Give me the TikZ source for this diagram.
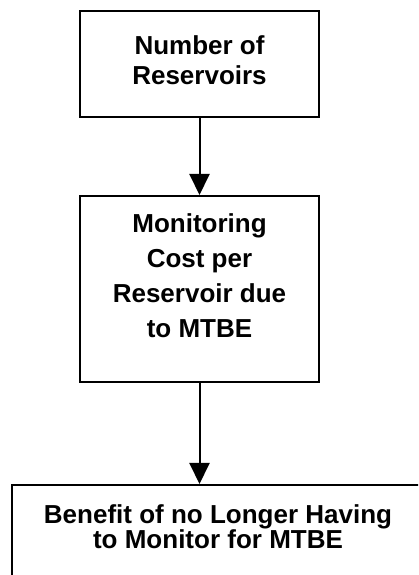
\documentclass[tikz,border=0pt]{standalone}
\usepackage{fontspec}
\setmainfont{Liberation Sans}
\usetikzlibrary{positioning,arrows.meta}
\tikzset{
  flowbox/.style={draw=black,line width=2pt,rectangle,align=center,inner sep=2pt,
    font=\bfseries,minimum width=239pt},
  flowarr/.style={-{Triangle[length=21pt,width=20pt]},line width=2pt},
}
\begin{document}
\begin{tikzpicture}[x=1pt,y=1pt]
  \useasboundingbox (0,0) rectangle (418,575);
  \clip (0,0) rectangle (418,575);
  % boxes, top to bottom
  \node[flowbox,minimum height=106pt,text depth=7pt,
        font=\bfseries\fontsize{26}{30}\selectfont] (nres) at (199.5,511)
    {Number of\\Reservoirs};
  \node[flowbox,minimum height=186pt,text depth=26pt,
        font=\bfseries\fontsize{26}{35}\selectfont] (mcost) at (199.5,286)
    {Monitoring\\Cost per\\Reservoir due\\to MTBE};
  \node[flowbox,minimum width=412pt,minimum height=115pt,text depth=31pt,
        font=\bfseries\fontsize{26}{25}\selectfont] (benefit) at (218,32.5)
    {Benefit of no Longer Having\\to Monitor for MTBE};
  % connectors
  \draw[flowarr] (nres.south) -- (mcost.north);
  \draw[flowarr] (mcost.south) -- (mcost.south |- benefit.north);
\end{tikzpicture}
\end{document}
